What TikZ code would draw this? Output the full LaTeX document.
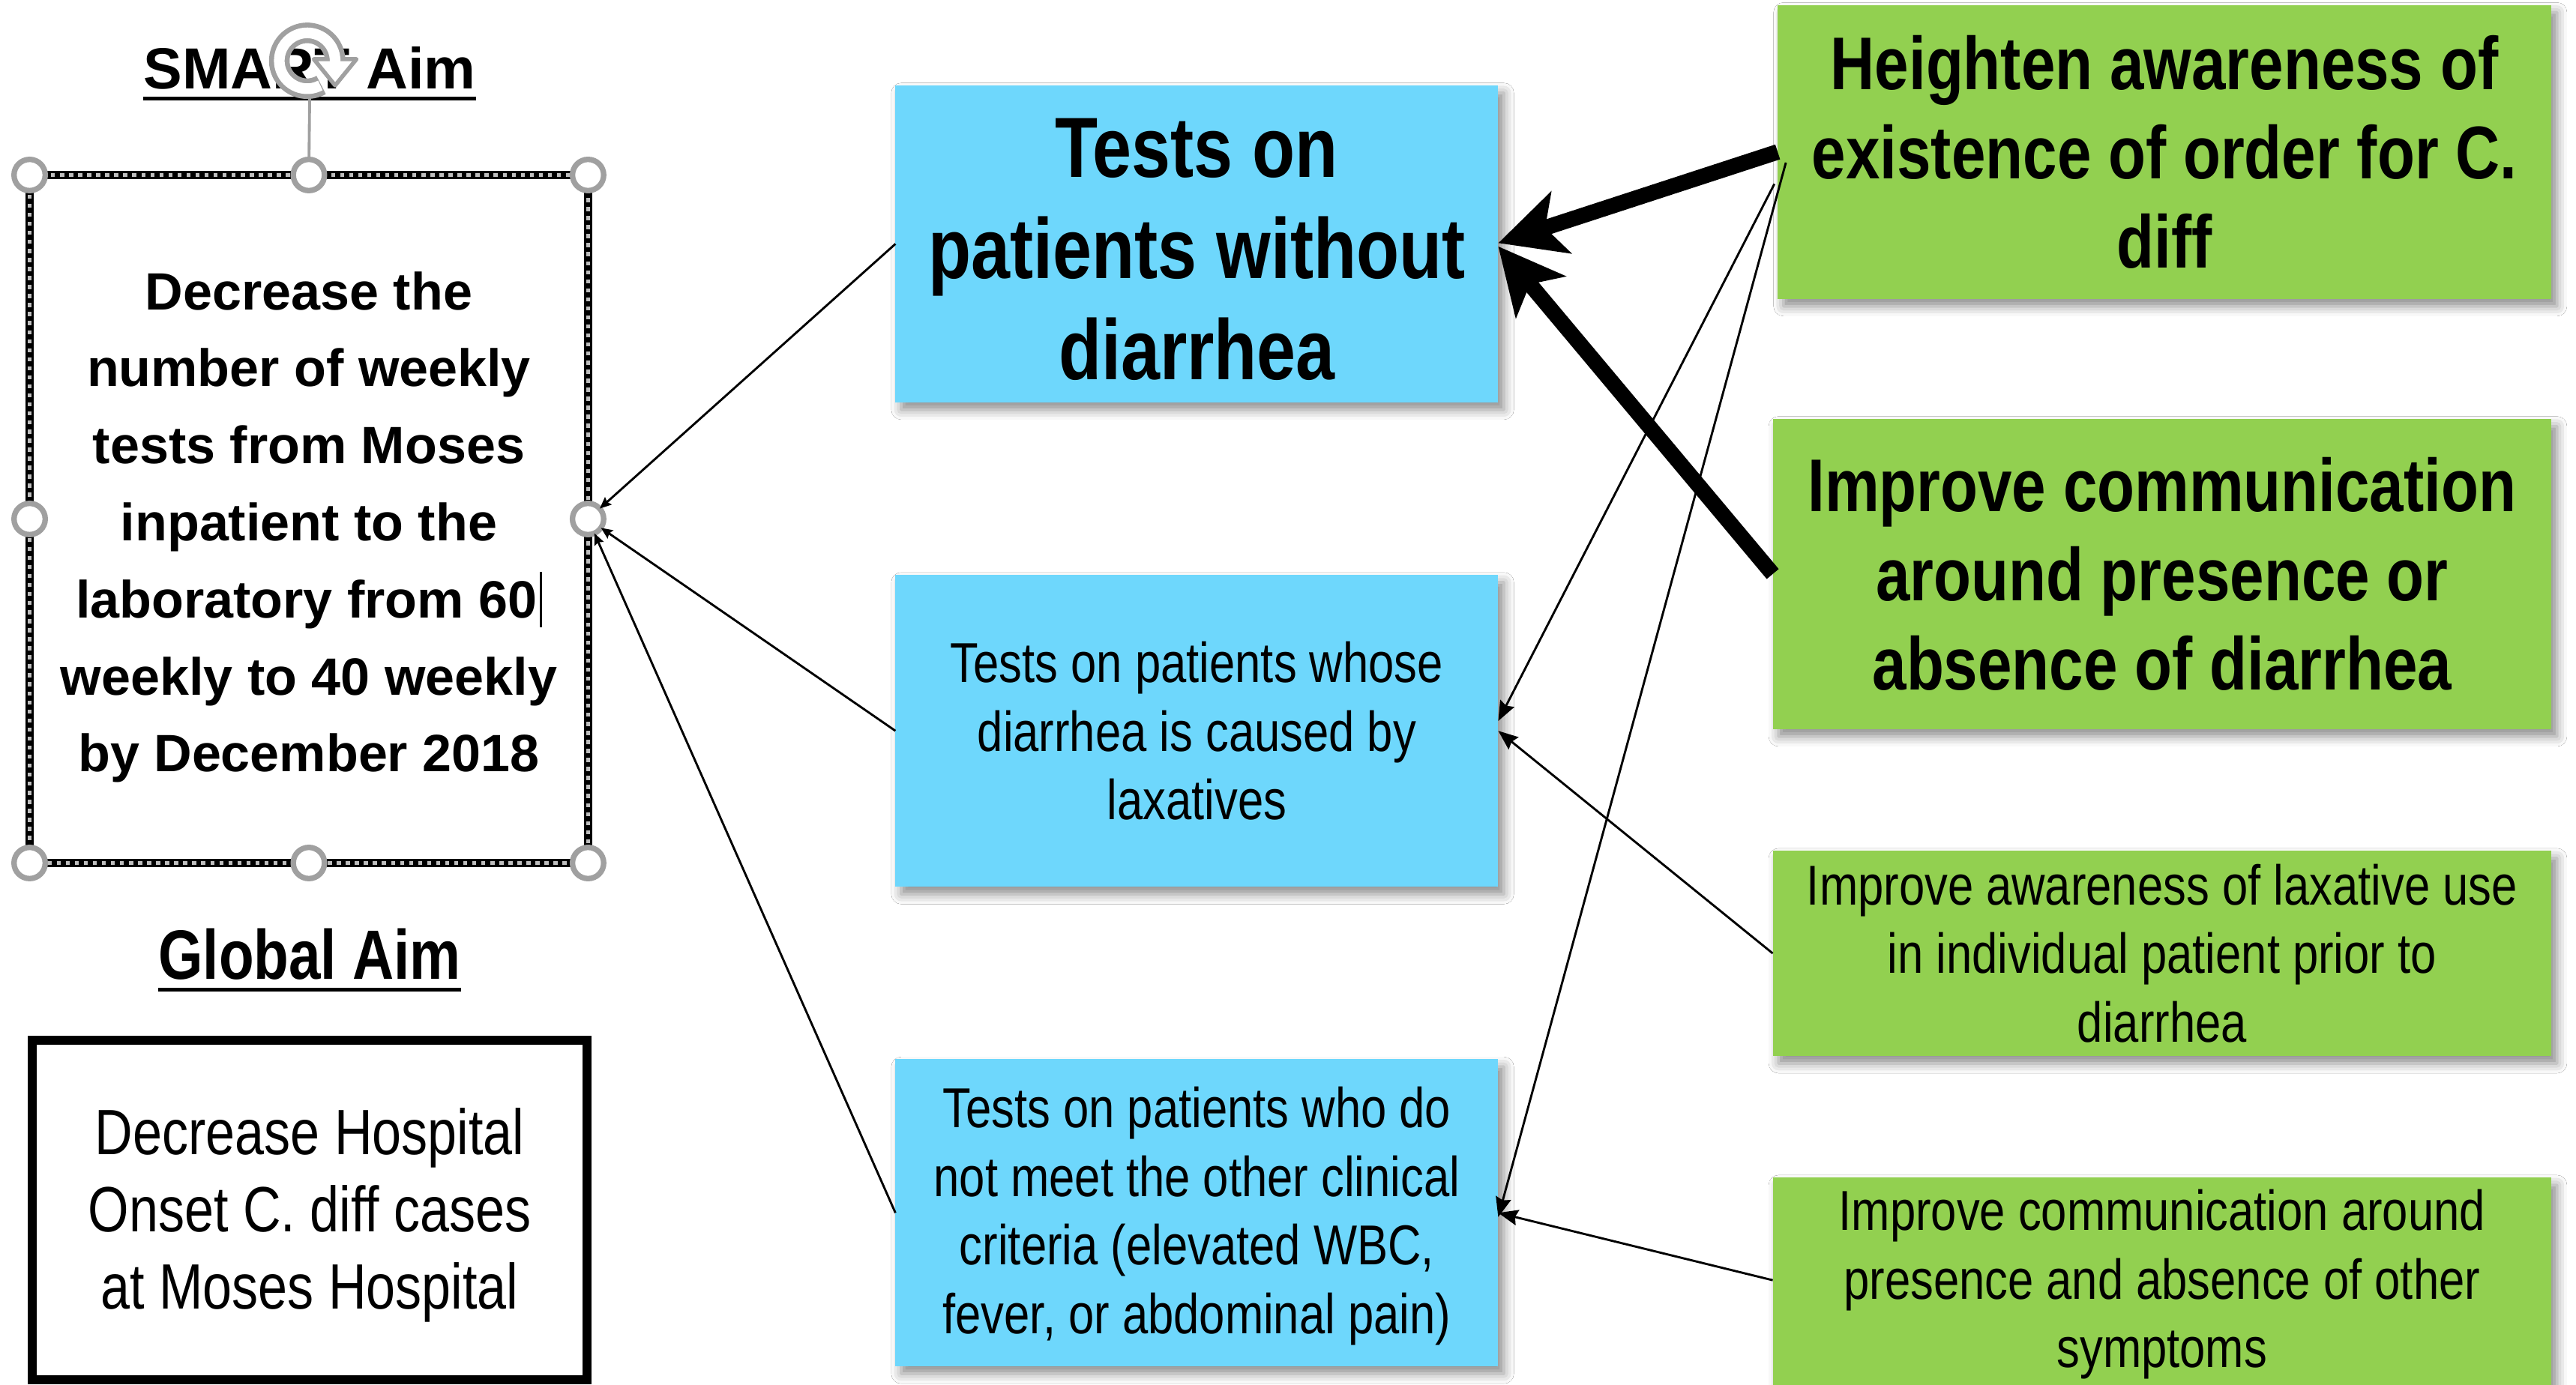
\documentclass[tikz,border=0pt]{standalone}
\usepackage{fontspec}
\setmainfont{Liberation Sans}
\newfontfamily\narrow[FakeStretch=0.82]{Liberation Sans}
\usetikzlibrary{arrows.meta,shadows.blur}
\definecolor{boxblue}{RGB}{110,215,252}
\definecolor{boxgreen}{RGB}{146,208,80}
\definecolor{handlegray}{RGB}{160,160,160}
\definecolor{dashgray}{RGB}{190,190,190}

\begin{document}
\begin{tikzpicture}[x=0.02cm,y=-0.02cm,
  shadowed/.style={blur shadow={shadow xshift=0.07cm, shadow yshift=-0.09cm,
      shadow blur radius=0.12cm, shadow opacity=45}},
  card/.style={shadowed, inner sep=0pt, outer sep=0pt, align=center, anchor=center},
  bluecard/.style={card, fill=boxblue, minimum width=7.34cm},
  greencard/.style={card, fill=boxgreen, minimum width=9.48cm},
  label/.style={inner sep=0pt, align=center},
  smarttitle/.style={font=\bfseries\fontsize{20.1pt}{24pt}\selectfont, inner sep=0pt, anchor=base},
  globaltitle/.style={font=\narrow\bfseries\fontsize{24.2pt}{29pt}\selectfont, inner sep=0pt, anchor=base},
  smarttext/.style={font=\bfseries\fontsize{18.2pt}{26.7pt}\selectfont},
  globaltext/.style={font=\narrow\fontsize{22.2pt}{26.7pt}\selectfont},
  bigbold/.style={font=\narrow\bfseries\fontsize{29.6pt}{35.1pt}\selectfont},
  midbold/.style={font=\narrow\bfseries\fontsize{25.9pt}{30.9pt}\selectfont},
  plainsmall/.style={font=\narrow\fontsize{19.5pt}{23.8pt}\selectfont},
  handle/.style={circle, draw=handlegray, fill=white, line width=1.9pt,
      minimum size=0.38cm, inner sep=0pt, outer sep=0pt},
  underline/.style={line width=1.5pt},
  thickarrow/.style={line width=5.4pt, -{Stealth[length=0.8cm, width=0.78cm, inset=0.2cm]}},
  thinarrow/.style={line width=0.75pt, -{Stealth[length=0.24cm, width=0.19cm, inset=0.03cm]}},
  tinyarrow/.style={line width=0.75pt, -{Stealth[length=0.14cm, width=0.12cm, inset=0.02cm]}}
]
\fill[white] (0,0) rectangle (1568,843.3);
\useasboundingbox (0,0) rectangle (1568,843.3);

% ---- left column: aims ----
\node[smarttitle] (smarttitle) at (188.5,54) {SMART Aim};
\draw[underline] ([yshift=-0.12cm]smarttitle.base west) -- ([yshift=-0.12cm]smarttitle.base east);

\node[draw=black, line width=2.8pt, inner sep=0pt, outer sep=0pt,
      minimum width=6.8cm, minimum height=8.38cm] (smartbox) at (188,316) {};
\node[draw=dashgray, line width=1.1pt, dash pattern=on 0.05cm off 0.06cm,
      minimum width=6.8cm, minimum height=8.38cm, inner sep=0pt] at (smartbox.center) {};
\node[label, smarttext] (smarttxt) at (188,321)
  {Decrease the\\number of weekly\\tests from Moses\\inpatient to the\\
   laboratory from 60\kern0.06em\rule[-0.18em]{0.035em}{1.05em}\\weekly to 40 weekly\\by December 2018};

\node[globaltitle] (globaltitle) at (188.5,596) {Global Aim};
\draw[underline, line width=1.4pt] ([yshift=-0.13cm]globaltitle.base west) -- ([yshift=-0.13cm]globaltitle.base east);

\node[draw=black, line width=3.1pt, inner sep=0pt, outer sep=0pt,
      minimum width=6.75cm, minimum height=4.135cm] (globalbox) at (188.5,736.6) {};
\node[label, globaltext] (globaltxt) at (188.5,740)
  {Decrease Hospital\\Onset C. diff cases\\at Moses Hospital};

% ---- selection handles around the SMART box ----
\node[handle] (hNW) at (smartbox.north west) {};
\node[handle] (hN)  at (smartbox.north) {};
\node[handle] (hNE) at (smartbox.north east) {};
\node[handle] (hW)  at (smartbox.west) {};
\node[handle] (hE)  at (smartbox.east) {};
\node[handle] (hSW) at (smartbox.south west) {};
\node[handle] (hS)  at (smartbox.south) {};
\node[handle] (hSE) at (smartbox.south east) {};
\coordinate (rotbase) at (188.5,58);
\coordinate (rotc) at (187,37);
\draw[handlegray, line width=1pt] (hN) -- (rotbase);
% rotate grip: an outlined circular arrow
\draw[handlegray, line width=0.25cm]
  ([shift={(-60:0.34cm)}]rotc) arc[start angle=-60, end angle=-360, radius=0.34cm];
\draw[handlegray, fill=white, line width=0.05cm, line join=round]
  ([shift={(0.08cm,0.02cm)}]rotc) -- ([shift={(0.6cm,0.02cm)}]rotc) -- ([shift={(0.34cm,-0.3cm)}]rotc) -- cycle;
\draw[white, line width=0.13cm]
  ([shift={(-62:0.34cm)}]rotc) arc[start angle=-62, end angle=-362, radius=0.34cm];

% ---- middle column: drivers ----
\node[bluecard, minimum height=3.86cm] (b1) at (728.5,148.5) {};
\node[label, bigbold] at (728.5,152) {Tests on\\patients without\\diarrhea};
\node[bluecard, minimum height=3.80cm, plainsmall] (b2) at (728.5,445)
  {Tests on patients whose\\diarrhea is caused by\\laxatives};
\node[bluecard, minimum height=3.74cm] (b3) at (728.5,738.5) {};
\node[label, plainsmall] at (728.5,740.5)
  {Tests on patients who do\\not meet the other clinical\\criteria (elevated WBC,\\fever, or abdominal pain)};

% ---- right column: change ideas ----
\node[greencard, minimum width=9.42cm, minimum height=3.58cm, midbold] (g1) at (1317.5,92.5)
  {Heighten awareness of\\existence of order for C.\\diff};
\node[greencard, minimum height=3.78cm, midbold] (g2) at (1316,349.5)
  {Improve communication\\around presence or\\absence of diarrhea};
\node[greencard, minimum height=2.50cm, plainsmall] (g3) at (1316,580.5)
  {Improve awareness of laxative use\\in individual patient prior to\\diarrhea};
\node[greencard, minimum height=2.60cm, plainsmall] (g4) at (1316,782)
  {Improve communication around\\presence and absence of other\\symptoms};

% ---- connectors: drivers to aim ----
\draw[tinyarrow] (b1.west) -- (hE);
\draw[tinyarrow] (b2.west) -- (hE);
\draw[tinyarrow] (b3.west) -- (hE);

% ---- connectors: change ideas to drivers ----
\draw[thinarrow] ([xshift=0.1cm, yshift=-0.13cm]g1.west) -- ([yshift=-0.05cm]b3.east);
\draw[thinarrow] ([xshift=-0.04cm, yshift=-0.39cm]g1.west) -- ([yshift=0.12cm]b2.east);
\draw[thinarrow] (g3.west) -- (b2.east);
\draw[thinarrow] ([yshift=0.05cm]g4.west) -- (b3.east);
\draw[thickarrow] (g1.west) -- ([yshift=0.01cm]b1.east);
\draw[thickarrow] (g2.west) -- ([yshift=-0.03cm]b1.east);
\end{tikzpicture}
\end{document}
